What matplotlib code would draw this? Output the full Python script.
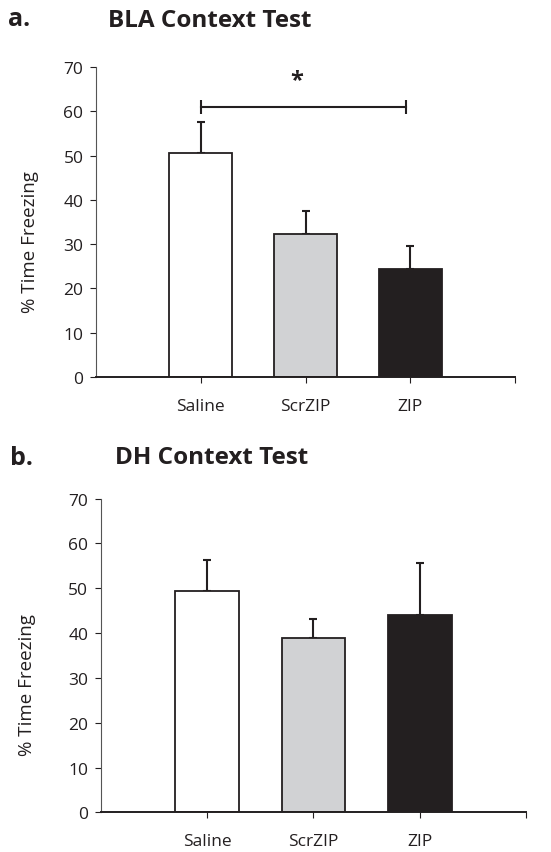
import matplotlib.pyplot as plt

plt.rcParams['font.family'] = ['Open Sans', 'DejaVu Sans']

groups = ['Saline', 'ScrZIP', 'ZIP']
colors = ['#ffffff', '#d1d2d4', '#231f20']
edge = '#231f20'

bla_mean = [50.5, 32.3, 24.4]
bla_sem = [7.0, 5.2, 5.1]
dh_mean = [49.3, 38.8, 44.1]
dh_sem = [7.1, 4.3, 11.6]

# significance bracket for BLA: Saline vs ZIP
sig_pair = (1, 2.96)
sig_y = 61.0

fig = plt.figure(figsize=(5.51, 8.53), dpi=100)
ax_a = fig.add_axes([0.1742, 0.5569, 0.7605, 0.3634])
ax_b = fig.add_axes([0.1828, 0.0465, 0.772, 0.3678])


def draw_panel(ax, means, sems, label_xy):
    x = [1, 2, 3]
    ax.bar(x, means, width=0.6, color=colors, edgecolor=edge, linewidth=1.3, zorder=2)
    ax.errorbar(x, means, yerr=[[0] * 3, sems], fmt='none', ecolor=edge,
                elinewidth=1.5, capsize=3, capthick=1.5, zorder=1)
    ax.set_xlim(0, 4)
    ax.set_ylim(0, 70)
    ax.set_yticks(range(0, 71, 10))
    ax.set_xticks([1, 2, 3, 4])
    ax.set_xticklabels(groups + [''])
    ax.spines['top'].set_visible(False)
    ax.spines['right'].set_visible(False)
    ax.spines['left'].set_linewidth(0.8)
    ax.spines['left'].set_color('#555555')
    ax.spines['bottom'].set_linewidth(1.4)
    ax.spines['bottom'].set_color('#231f20')
    ax.tick_params(axis='y', length=4, width=0.8, pad=5, labelsize=12.5, colors='#231f20')
    ax.tick_params(axis='x', length=4, width=0.8, pad=11, labelsize=12.5, colors='#231f20')
    ax.set_ylabel('% Time Freezing', fontsize=13.5, color='#231f20')
    ax.yaxis.set_label_coords(*label_xy)


draw_panel(ax_a, bla_mean, bla_sem, (-0.136, 0.44))
draw_panel(ax_b, dh_mean, dh_sem, (-0.152, 0.41))

# significance marker
ax_a.plot(sig_pair, [sig_y, sig_y], color='#231f20', linewidth=1.5, clip_on=False)
ax_a.plot(sig_pair, [sig_y, sig_y], linestyle='none', marker='|', markersize=10,
          markeredgewidth=1.5, color='#231f20', clip_on=False)
ax_a.text(1.92, 67.0, '*', ha='center', va='center', fontsize=17,
          fontweight='bold', color='#231f20')

fig.text(8 / 551, 1 - 20 / 853, 'a.', fontsize=18, fontweight='bold',
         ha='left', va='center', color='#231f20')
fig.text(108 / 551, 1 - 21 / 853, 'BLA Context Test', fontsize=17.5,
         fontweight='bold', ha='left', va='center', color='#231f20')
fig.text(10 / 551, 1 - 459 / 853, 'b.', fontsize=18, fontweight='bold',
         ha='left', va='center', color='#231f20')
fig.text(115 / 551, 1 - 458 / 853, 'DH Context Test', fontsize=17.5,
         fontweight='bold', ha='left', va='center', color='#231f20')

fig.savefig('out.png', dpi=100)
